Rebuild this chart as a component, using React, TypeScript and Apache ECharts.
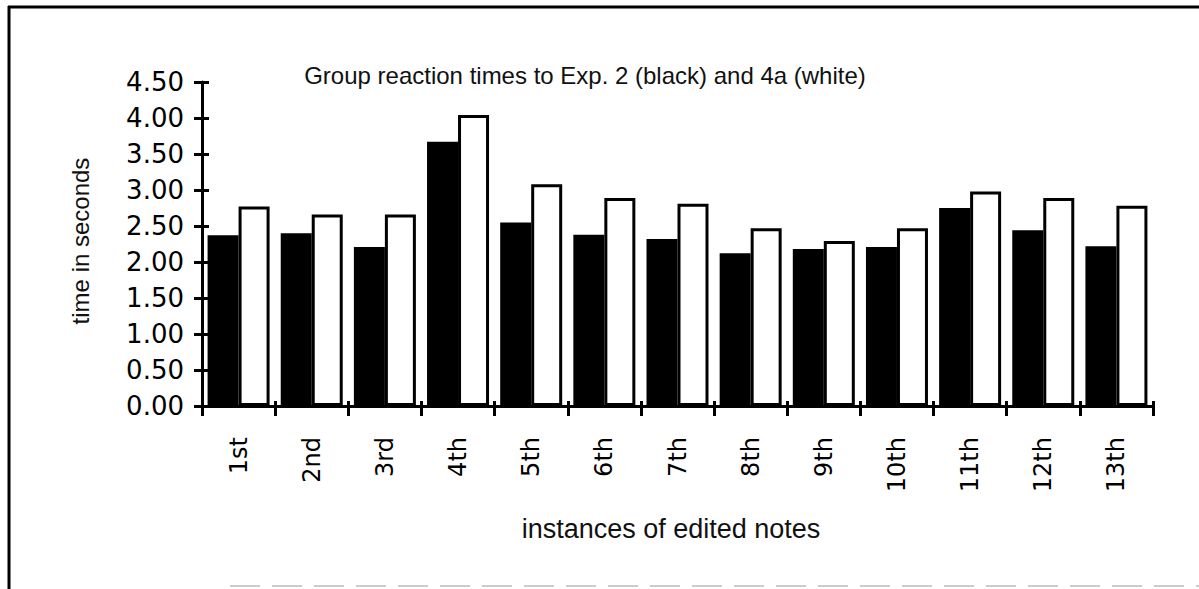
import React, { useEffect, useRef } from "react";
import * as echarts from "echarts";

const categories = ["1st", "2nd", "3rd", "4th", "5th", "6th", "7th", "8th", "9th", "10th", "11th", "12th", "13th"];
const exp2Black = [2.37, 2.4, 2.21, 3.67, 2.55, 2.38, 2.32, 2.12, 2.18, 2.21, 2.75, 2.44, 2.22];
const exp4aWhite = [2.77, 2.66, 2.66, 4.04, 3.08, 2.89, 2.81, 2.47, 2.29, 2.47, 2.98, 2.89, 2.78];
const yTickLabels = ["0.00", "0.50", "1.00", "1.50", "2.00", "2.50", "3.00", "3.50", "4.00", "4.50"];

const FONT = "Liberation Sans, Arial, Helvetica, sans-serif";
const WIDE = "DejaVu Sans, Liberation Sans, sans-serif";

export default function App() {
  const ref = useRef<HTMLDivElement>(null);
  useEffect(() => {
    document.body.style.margin = "0";
    const chart = echarts.init(ref.current!, null, { renderer: "svg" });
    chart.setOption({
      animation: false,
      backgroundColor: "#ffffff",
      title: {
        text: "Group reaction times to Exp. 2 (black) and 4a (white)",
        left: 580,
        textAlign: "center",
        top: 58,
        textStyle: { fontFamily: FONT, fontSize: 24, fontWeight: "normal", color: "#111" },
      },
      grid: { left: 202, right: 46, top: 82, bottom: 183, containLabel: false },
      xAxis: [
        {
          type: "category",
          data: categories,
          position: "bottom",
          axisLine: { show: true, lineStyle: { color: "#000", width: 3 } },
          axisTick: { show: true, inside: false, length: 10, interval: 0, lineStyle: { color: "#000", width: 3 } },
          axisLabel: {
            interval: 0,
            rotate: 90,
            margin: 31,
            fontFamily: WIDE,
            fontSize: 24,
            color: "#000",
          },
          splitLine: { show: false },
        },
        {
          type: "category",
          data: categories,
          position: "bottom",
          axisLine: { show: false },
          axisTick: { show: true, inside: true, length: 5, interval: 0, lineStyle: { color: "#000", width: 3 } },
          axisLabel: { show: false },
          splitLine: { show: false },
        },
      ],
      yAxis: [
        {
          type: "value",
          position: "left",
          min: 0,
          max: 4.5,
          interval: 0.5,
          axisLine: { show: true, lineStyle: { color: "#000", width: 3 } },
          axisTick: { show: true, inside: false, length: 8, lineStyle: { color: "#000", width: 3 } },
          axisLabel: {
            margin: 18,
            fontFamily: WIDE,
            fontSize: 26,
            color: "#000",
            formatter: (v: number) => yTickLabels[Math.round(v / 0.5)] ?? v.toFixed(2),
          },
          splitLine: { show: false },
        },
        {
          type: "value",
          position: "left",
          offset: 0,
          min: 0,
          max: 4.5,
          interval: 0.5,
          axisLine: { show: false },
          axisTick: { show: true, inside: true, length: 7, lineStyle: { color: "#000", width: 3 } },
          axisLabel: { show: false },
          splitLine: { show: false },
        },
      ],
      series: [
        {
          name: "Exp. 2",
          type: "bar",
          xAxisIndex: 0,
          yAxisIndex: 0,
          data: exp2Black,
          barWidth: 31,
          barGap: "0%",
          itemStyle: { color: "#000", borderColor: "#000", borderWidth: 0 },
          z: 1,
        },
        {
          name: "4a",
          type: "bar",
          xAxisIndex: 0,
          yAxisIndex: 0,
          data: exp4aWhite,
          barWidth: 31,
          barGap: "0%",
          itemStyle: { color: "#fff", borderColor: "#000", borderWidth: 3 },
          z: 1,
        },
      ],
      graphic: [
        {
          type: "text",
          x: 80,
          y: 241,
          rotation: Math.PI / 2,
          style: {
            text: "time in seconds",
            fontFamily: FONT,
            fontSize: 24,
            fill: "#111",
            align: "center",
            verticalAlign: "middle",
          },
        },
        {
          type: "text",
          x: 671,
          y: 529,
          style: {
            text: "instances of edited notes",
            fontFamily: FONT,
            fontSize: 27,
            fill: "#111",
            align: "center",
            verticalAlign: "middle",
          },
        },
        {
          type: "line",
          shape: { x1: 8, y1: 7, x2: 1199, y2: 7 },
          style: { stroke: "#000", lineWidth: 3 },
        },
        {
          type: "line",
          shape: { x1: 9, y1: 6, x2: 9, y2: 589 },
          style: { stroke: "#000", lineWidth: 3 },
        },
        {
          type: "line",
          shape: { x1: 230, y1: 586, x2: 1199, y2: 586 },
          style: { stroke: "#ccc", lineWidth: 2, lineDash: [30, 12] },
        },
      ],
    });
    return () => chart.dispose();
  }, []);
  return <div ref={ref} style={{ width: 1199, height: 589 }} />;
}
